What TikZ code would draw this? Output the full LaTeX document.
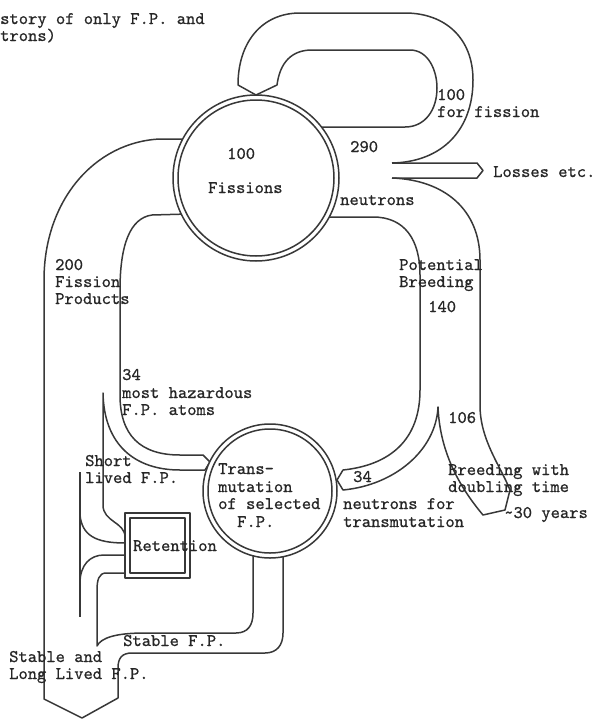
\documentclass[tikz,border=0pt]{standalone}
\usepackage{fontspec}
\newfontfamily\twfont[FakeBold=0.8]{lmmono10-regular.otf}
\begin{document}
\begin{tikzpicture}[x=1pt,y=-1pt,
  band/.style={line width=1.5pt, draw=black!78, line join=round},
  lbl/.style={font=\fontsize{17.7}{17}\selectfont\twfont, inner sep=0pt, anchor=base west, text=black!85}]
\useasboundingbox (0,0) rectangle (597,720);
% loop: 100 for fission
\draw[band] (392,163) .. controls (442,162) and (473,130) .. (473,80) .. controls (473,38) and (445,13) .. (405,13) -- (300,13) .. controls (262,13) and (238,42) .. (238,85) -- (256,95) -- (277,85) .. controls (280,62) and (292,50) .. (312,50) -- (410,50) .. controls (428,50) and (437,70) .. (437,88) .. controls (437,110) and (425,127) .. (405,127) -- (305,127);
% losses
\draw[band] (392,163) -- (477,163) -- (483,170.5) -- (477,178) -- (392,178);
% breeding outer, breeding arrow, 34 neutrons band, breeding inner
\draw[band] (392,178) .. controls (445,180) and (480,210) .. (480,260) -- (480,405) .. controls (480,440) and (500,465) .. (510,490) -- (505,510) -- (483,515) .. controls (462,490) and (440,455) .. (438,407) .. controls (436,450) and (395,485) .. (343,490) -- (337,480) -- (343,470) .. controls (390,465) and (420,440) .. (420,390) -- (420,275) .. controls (420,240) and (405,217) .. (373,217) -- (326,217);
% 200 band outer, big arrow, stable outer
\draw[band] (188,139) -- (160,139) .. controls (95,142) and (44,200) .. (44,280) -- (44,699) -- (82,718) -- (118,698) -- (118,668) .. controls (118,658) and (122,653) .. (132,653) -- (265,653) .. controls (277,653) and (283,645) .. (283,633) -- (283,550);
% 200 band inner, 34 hazardous band, short lived right
\draw[band] (188,214) -- (152,215) .. controls (130,218) and (120,245) .. (120,290) -- (120,395) .. controls (120,435) and (140,455) .. (180,455) -- (203,455) -- (210,462) -- (205,470) -- (180,470) .. controls (135,470) and (104,445) .. (103,393) -- (103,505) .. controls (103,522) and (125,522) .. (125,537);
% divider x=80
\draw[band] (80,472) -- (80,617);
\draw[band, line width=2.4pt] (80,585) -- (80,617);
% short lived left into box
\draw[band] (80,515) .. controls (82,535) and (95,543) .. (125,543);
% retention output
\draw[band] (125,555) -- (104,555) .. controls (90,555) and (80,565) .. (80,583);
\draw[band] (125,573) -- (106,573) .. controls (99,573) and (97,580) .. (97,590) -- (97,646) .. controls (101,638) and (115,633) .. (145,633) -- (236,633) .. controls (248,633) and (253,625) .. (253,613) -- (253,550);
% circles
\draw[band, fill=white] (256,178) circle[radius=83pt];
\draw[band] (256,178) circle[radius=78pt];
\draw[band, fill=white] (270,491) circle[radius=67pt];
\draw[band] (270,491) circle[radius=62pt];
% retention box
\draw[band, fill=white] (125,513) rectangle (190,578);
\draw[band] (130,518) rectangle (185,573);
% texts
\node[lbl] (t1) at (0,24) {story of only F.P. and};
\node[lbl] (t2) at (0,41) {trons)};
\node[lbl] (f100) at (227,159) {100};
\node[lbl] (fis) at (208,193) {Fissions};
\node[lbl] (ff1) at (437,100) {100};
\node[lbl] (ff2) at (437,117) {for fission};
\node[lbl] (n290) at (350,152) {290};
\node[lbl] (loss) at (493,177) {Losses etc.};
\node[lbl] (neu) at (340,205) {neutrons};
\node[lbl] (p1) at (55,270) {200};
\node[lbl] (p2) at (55,287) {Fission};
\node[lbl] (p3) at (55,304) {Products};
\node[lbl] (b1) at (399,270) {Potential};
\node[lbl] (b2) at (399,287) {Breeding};
\node[lbl] (b3) at (428,312) {140};
\node[lbl] (h1) at (122,380) {34};
\node[lbl] (h2) at (122,398) {most hazardous};
\node[lbl] (h3) at (122,415) {F.P. atoms};
\node[lbl] (b106) at (448,423) {106};
\node[lbl] (s1) at (85,466) {Short};
\node[lbl] (s2) at (85,483) {lived F.P.};
\node[lbl] (tr1) at (218,474) {Trans-};
\node[lbl] (tr2) at (218,492) {mutation};
\node[lbl] (tr3) at (218,509) {of selected};
\node[lbl] (tr4) at (237,527) {F.P.};
\node[lbl] (ret) at (133,551) {Retention};
\node[lbl] (n34) at (353,482) {34};
\node[lbl] (nt1) at (343,509) {neutrons for};
\node[lbl] (nt2) at (343,527) {transmutation};
\node[lbl] (bw1) at (448,475) {Breeding with};
\node[lbl] (bw2) at (448,492) {doubling time};
\node[lbl] (bw3) at (504,518) {\textasciitilde30 years};
\node[lbl] (sfp) at (123,646) {Stable F.P.};
\node[lbl] (sl1) at (9,662) {Stable and};
\node[lbl] (sl2) at (9,679) {Long Lived F.P.};
\end{tikzpicture}
\end{document}
